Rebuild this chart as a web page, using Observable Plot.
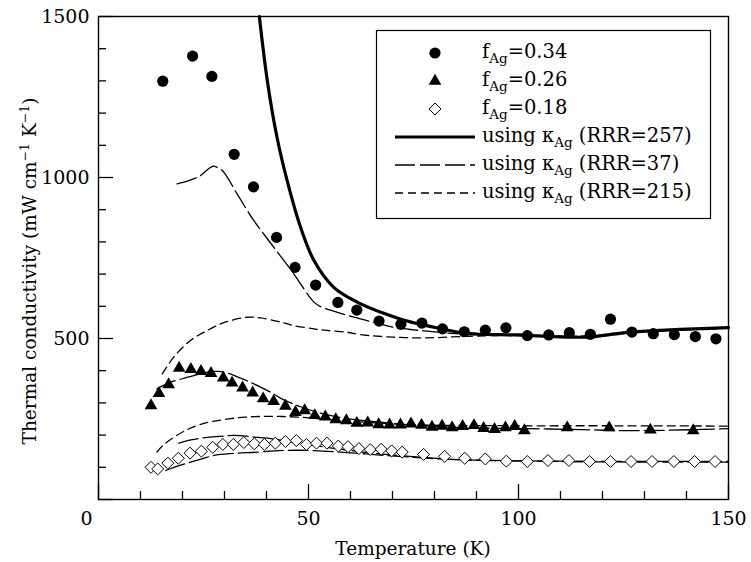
<!DOCTYPE html>
<html><head><meta charset="utf-8">
<script src="https://cdn.jsdelivr.net/npm/d3@7"></script>
<script src="https://cdn.jsdelivr.net/npm/@observablehq/plot@0.6"></script>
<style>body{margin:0;background:#fff;} #chart{width:751px;height:562px;}</style>
</head><body><div id="chart"></div>
<script>
// ---- data (Temperature K, thermal conductivity mW cm^-1 K^-1) ----
const f034 = [[15.3,1299],[22.4,1377],[27.0,1314],[32.3,1072],[36.9,971],[42.4,814],[46.8,721],[51.7,666],[57.0,612],[61.5,588],[66.8,554],[72.0,544],[77.0,548],[81.9,530],[87.1,521],[92.1,526],[97.0,533],[102.1,509],[107.2,511],[112.1,518],[117.1,513],[121.9,560],[127.0,520],[132.1,515],[137.1,512],[142.1,506],[147.0,499]];
const f026 = [[12.5,292],[14.4,330],[16.7,357],[19.2,408],[22.0,404],[24.4,398],[26.8,392],[29.7,378],[31.8,362],[34.3,347],[36.7,331],[39.2,313],[41.7,305],[44.5,290],[46.9,271],[49.1,276],[51.5,261],[54.0,257],[56.5,248],[59.0,245],[61.5,237],[64.1,238],[66.7,233],[69.3,232],[71.9,232],[74.4,235],[76.9,231],[79.4,225],[81.8,228],[84.2,223],[86.7,227],[89.4,230],[91.7,221],[94.3,218],[96.9,223],[99.1,227],[101.4,214],[111.6,223],[121.6,223],[131.4,216],[141.6,214]];
const f018 = [[12.5,100],[14.1,95],[16.5,113],[19.0,128],[21.8,144],[24.5,150],[27.2,162],[29.6,171],[32.1,171],[34.6,177],[37.1,173],[39.5,171],[42.1,175],[44.5,180],[47.1,183],[49.5,171],[51.9,175],[54.4,175],[57.1,166],[59.4,164],[62.0,158],[64.7,155],[67.3,156],[69.8,151],[72.3,147],[77.4,140],[82.4,134],[87.2,128],[92.1,126],[97.1,119],[102.1,118],[107.0,121],[112.0,121],[116.9,118],[121.9,118],[126.8,118],[131.8,118],[137.0,118],[141.9,118],[146.8,118]];

const rrr257 = [[38.3,1500],[40.2,1300],[42.5,1125],[44.9,991],[48.1,846],[51.3,742],[56,659],[61.6,613],[67.1,582],[72,560],[77,543],[81.8,530],[86.2,518],[90,514],[95,512],[100,511],[105,508],[110,505],[115,504],[118,506],[122,513],[127,520],[135,526],[142,530],[150,534]];
const rrr37a = [[18.7,980],[21.5,990],[24.3,1006],[26,1025],[27.3,1035],[28.5,1030],[29.8,1017],[33,949],[37,866],[41.7,784],[46.5,701],[49.7,639],[51.3,613],[53,598],[56,585],[60.8,566],[67.1,545],[70.3,535],[75,527],[80.6,520],[85,515],[90,512],[100,510],[110,506],[115,505],[120,508],[127,518],[135,525],[150,532]];
const rrr215a = [[15.2,390],[17.9,442],[21.9,494],[25.9,525],[30,550],[35.4,566],[38.6,564],[43.3,551],[46.5,540],[51.3,530],[54.4,525],[59.2,519],[62.4,512],[70.3,504],[78.2,502],[86.2,506],[95,509],[110,507],[120,510],[130,522],[150,532]];
const rrr37b = [[13.9,344],[17.1,364],[20,375],[23.5,388],[26.7,397],[28.5,398],[30.6,393],[33.8,377],[36,365],[38.6,349],[41.7,328],[43.3,315],[48.1,288],[52.9,268],[59.2,251],[67.1,240],[75.1,231],[81.4,226],[90,222],[102,220],[115,217],[124.3,214],[135,215],[150,220]];
const rrr215b = [[13.9,147],[15.5,170],[17.9,193],[20.5,213],[23.5,230],[27,242],[31.4,251],[35,256],[39.4,258],[43,258],[47.3,256],[55.2,248],[63.2,240],[75.1,232],[85,230],[100,229],[120,229],[150,228]];
const rrr37c = [[19.1,175],[22,185],[25.9,193],[29.8,197],[32.2,199],[37,194],[41.7,188],[43.3,184],[48.1,175],[51.3,168],[57,157],[62,149],[67,142],[75,133],[85,124],[100,120],[150,118]];
const rrr37d = [[16,90],[18,100],[21.9,116],[25,128],[27.5,137],[32,143],[37.8,147],[43,152],[47.3,153],[51.3,152],[57,148],[62,143],[67.1,138],[75,131],[81.4,126],[90,122],[100,120],[117,117],[150,116]];

const xMajor = [0,50,100,150];
const xMinor = [10,20,30,40,60,70,80,90,110,120,130,140];
const yMajor = [0,500,1000,1500];
const yMinor = [100,200,300,400,600,700,800,900,1100,1200,1300,1400];
const xTickLabels = [50,100,150];
const yTickLabels = [500,1000,1500];

const legendItems = [
  {kind:"circle", pre:"f", sub:"Ag", post:"=0.34"},
  {kind:"triangle", pre:"f", sub:"Ag", post:"=0.26"},
  {kind:"diamond", pre:"f", sub:"Ag", post:"=0.18"},
  {kind:"solid", pre:"using \u03ba", sub:"Ag", post:" (RRR=257)"},
  {kind:"long", pre:"using \u03ba", sub:"Ag", post:" (RRR=37)"},
  {kind:"short", pre:"using \u03ba", sub:"Ag", post:" (RRR=215)"}
];

// ---- layout ----
const W = 751, H = 562, mL = 98, mR = 23, mT = 16, mB = 63;
const iW = W - mL - mR, iH = H - mT - mB;
const FONT = "'DejaVu Serif', serif";
const LONG = "20,5", SHORT = "8,5";
const rC = 5.6, rT = 4.7, rD = 5.4;
const acc = {x: d => d[0], y: d => d[1]};
const ln = (data, o) => Plot.line(data, {...acc, stroke: "black", curve: "catmull-rom", ...o});
const fmt = d => String(d);

const chart = Plot.plot({
  width: W, height: H,
  marginLeft: mL, marginRight: mR, marginTop: mT, marginBottom: mB,
  style: {fontFamily: FONT, fontSize: "19px", background: "white", color: "black"},
  x: {domain: [0, 150]},
  y: {domain: [0, 1500]},
  marks: [
    ln(rrr215a, {strokeWidth: 1.3, strokeDasharray: SHORT}),
    ln(rrr215b, {strokeWidth: 1.3, strokeDasharray: SHORT}),
    ln(rrr37a, {strokeWidth: 1.3, strokeDasharray: LONG}),
    ln(rrr37b, {strokeWidth: 1.3, strokeDasharray: LONG}),
    ln(rrr37c, {strokeWidth: 1.3, strokeDasharray: LONG}),
    ln(rrr37d, {strokeWidth: 1.3, strokeDasharray: LONG}),
    ln(rrr257, {strokeWidth: 3.2}),
    Plot.dot(f034, {...acc, symbol: "circle", r: rC, fill: "black"}),
    Plot.dot(f026, {...acc, symbol: "triangle", r: rT, fill: "black"}),
    Plot.dot(f018, {...acc, symbol: "diamond2", r: rD, fill: "white", stroke: "black", strokeWidth: 1}),
    Plot.tickY(yMajor, {y: d => d, insetRight: iW - 15, strokeWidth: 1.3}),
    Plot.tickY(yMinor, {y: d => d, insetRight: iW - 8, strokeWidth: 1.3}),
    Plot.tickX(xMajor, {x: d => d, insetTop: iH - 15, strokeWidth: 1.3}),
    Plot.tickX(xMinor, {x: d => d, insetTop: iH - 8, strokeWidth: 1.3}),
    Plot.frame({stroke: "black", strokeWidth: 1.4}),
    Plot.axisY({ticks: yTickLabels, tickFormat: fmt, tickSize: 0, tickPadding: 9, fontSize: 19, label: null}),
    Plot.axisX({ticks: xTickLabels, tickFormat: fmt, tickSize: 0, tickPadding: 12, fontSize: 19, label: null}),
    Plot.axisX({ticks: [0], tickFormat: fmt, tickSize: 0, tickPadding: 12, dx: -12, fontSize: 19, label: null})
  ]
});

const svg = d3.select(chart);

// axis titles
svg.append("text")
  .attr("x", mL + iW / 2).attr("y", 555)
  .attr("text-anchor", "middle")
  .style("font-family", FONT).style("font-size", "18.5px").attr("fill", "black")
  .text("Temperature (K)");

const yl = svg.append("text")
  .attr("transform", `translate(36,271) rotate(-90)`)
  .attr("text-anchor", "middle")
  .style("font-family", FONT).style("font-size", "18.5px").attr("fill", "black");
yl.append("tspan").text("Thermal conductivity (mW cm");
yl.append("tspan").attr("dy", -7).style("font-size", "12.5px").text("\u22121");
yl.append("tspan").attr("dy", 7).text(" K");
yl.append("tspan").attr("dy", -7).style("font-size", "12.5px").text("\u22121");
yl.append("tspan").attr("dy", 7).text(")");

// legend
const lg = svg.append("g").attr("text-anchor", "start");
lg.append("rect").attr("x", 376.5).attr("y", 30.5).attr("width", 334).attr("height", 188)
  .attr("fill", "white").attr("stroke", "black").attr("stroke-width", 1.2);
const rowY0 = 53, rowDY = 28, symX = 435, lineX1 = 395, lineX2 = 475, textX = 482;
legendItems.forEach((it, i) => {
  const cy = rowY0 + i * rowDY;
  if (it.kind === "circle" || it.kind === "triangle" || it.kind === "diamond") {
    const type = it.kind === "circle" ? d3.symbolCircle : it.kind === "triangle" ? d3.symbolTriangle : d3.symbolDiamond2;
    const r = it.kind === "circle" ? rC : it.kind === "triangle" ? rT : rD;
    lg.append("path").attr("transform", `translate(${symX},${cy})`)
      .attr("d", d3.symbol(type, Math.PI * r * r)())
      .attr("fill", it.kind === "diamond" ? "white" : "black")
      .attr("stroke", it.kind === "diamond" ? "black" : "none");
  } else {
    lg.append("line").attr("x1", lineX1).attr("x2", lineX2).attr("y1", cy).attr("y2", cy)
      .attr("stroke", "black")
      .attr("stroke-width", it.kind === "solid" ? 3.2 : 1.3)
      .attr("stroke-dasharray", it.kind === "long" ? LONG : it.kind === "short" ? SHORT : null);
  }
  const t = lg.append("text").attr("x", textX).attr("y", cy + 5).attr("text-anchor", "start")
    .style("font-family", FONT).style("font-size", "19.5px").attr("fill", "black");
  t.append("tspan").text(it.pre);
  t.append("tspan").attr("dy", 5).style("font-size", "13.5px").text(it.sub);
  t.append("tspan").attr("dy", -5).text(it.post);
});

document.getElementById("chart").appendChild(chart);
</script>
</body></html>
